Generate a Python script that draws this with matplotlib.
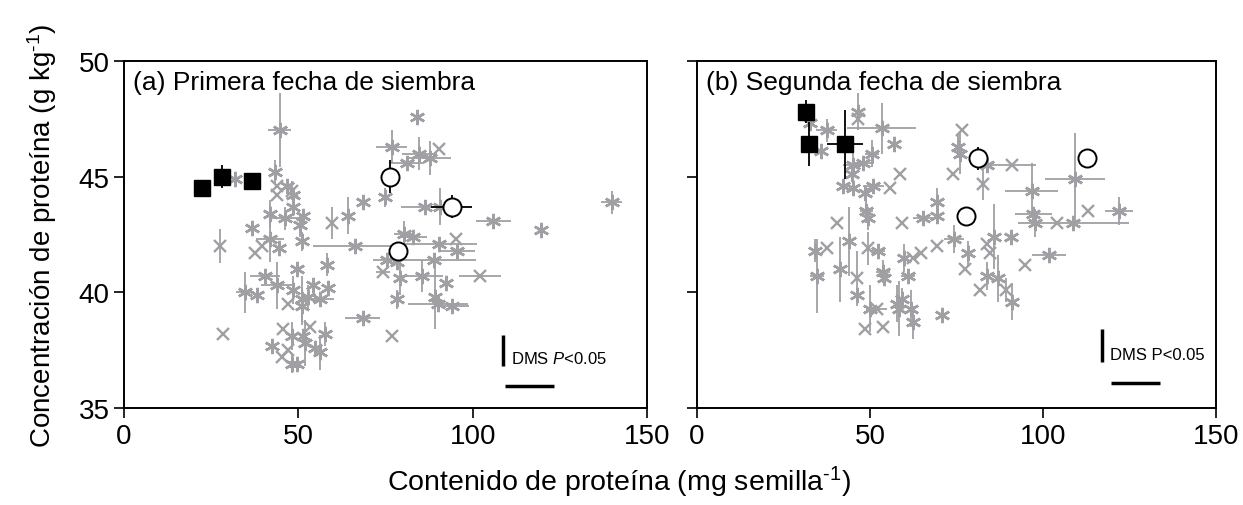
import numpy as np
import matplotlib.pyplot as plt

plt.rcParams['font.family'] = ['Liberation Sans', 'DejaVu Sans']
plt.rcParams['mathtext.fontset'] = 'custom'
plt.rcParams['mathtext.rm'] = 'Liberation Sans'
plt.rcParams['mathtext.it'] = 'Liberation Sans:italic'

# ---- panel (a) grey points: x, y, xerr, yerr, marker
a_x = [44.7, 43.3, 31.8, 43.8, 46.6, 48.1, 43.8, 48.6, 68.6, 74.8, 64.3, 59.6, 41.9, 46.2, 51.4, 50.5, 36.6, 48.6,
       83.9, 76.8, 84.7, 90.4, 87.8, 81.1, 86.3, 90.6, 105.9, 119.5, 139.9, 80.4, 83.0, 90.4, 95.2, 95.6, 75.3, 78.2,
       88.9, 85.4, 74.3, 79.1, 102.1, 92.3, 78.4, 89.2, 90.1, 94.0, 76.8, 27.5, 41.9, 39.5, 37.6, 44.5, 51.0, 66.2,
       58.1, 49.5, 40.4, 43.8, 34.7, 38.0, 48.6, 54.1, 58.6, 51.0, 52.9, 56.2, 47.1, 51.0, 68.4, 28.3, 45.7, 48.3,
       51.4, 53.3, 57.6, 42.4, 51.9, 54.8, 56.2, 47.1, 45.2, 48.1, 49.5]
a_y = [47.0, 45.2, 44.9, 44.6, 44.6, 44.4, 44.2, 44.2, 43.9, 44.1, 43.3, 43.0, 43.4, 43.2, 43.3, 42.9, 42.8, 43.7,
       47.6, 46.3, 46.0, 46.2, 45.8, 45.6, 43.7, 43.7, 43.1, 42.7, 43.9, 42.5, 42.4, 42.1, 42.3, 41.8, 41.4, 41.3,
       41.4, 40.7, 40.9, 40.6, 40.7, 40.4, 39.7, 39.8, 39.5, 39.4, 38.1, 42.0, 42.3, 42.0, 41.7, 41.9, 42.2, 42.0,
       41.2, 41.0, 40.7, 40.3, 40.0, 39.9, 40.1, 40.3, 40.2, 39.7, 39.8, 39.7, 39.5, 39.4, 38.9, 38.2, 38.4, 38.1,
       38.1, 38.5, 38.2, 37.7, 37.8, 37.6, 37.4, 37.5, 37.2, 36.9, 36.9]
a_xerr = [3.3, 0, 0, 0, 0, 0, 0, 0, 0, 0, 0, 0, 0, 4.5, 0, 0, 0, 0,
          0, 4.5, 5, 0, 6, 5, 7, 0, 5, 0, 3, 3, 4, 10.7, 0, 5, 4, 0,
          12, 6, 2, 0, 6, 0, 0, 0, 8.6, 5, 0, 0, 4, 0, 0, 0, 0, 12,
          0, 0, 4.3, 4.5, 2.5, 0, 0, 0, 0, 0, 0, 4, 0, 0, 5, 0, 0, 0,
          0, 0, 0, 0, 0, 0, 0, 0, 0, 0, 0]
a_yerr = [1.6, 0.5, 0, 0, 0, 0.4, 0, 0, 0, 0.4, 0.8, 0.7, 0.6, 0.5, 0, 0.5, 0, 0.4,
          0, 0.7, 0.7, 0, 0.75, 0, 0, 0.8, 0, 0, 0.5, 0.6, 0, 0, 0, 0, 0, 0,
          0, 0.7, 0, 0.7, 0, 0.3, 0.4, 1.4, 0, 0, 0, 0.75, 1.0, 0, 0, 0, 0.4, 0,
          0.5, 0, 0, 1.0, 0.9, 0, 0.6, 0, 0, 1.0, 0.5, 0, 0, 0.8, 0, 0, 0, 0.6,
          0, 0, 0.5, 0, 1.0, 0, 0.75, 0, 0, 0.4, 0]
a_mk = ['*', '*', '*', 'x', '*', 'x', 'x', '*', '*', '*', '*', 'x', '*', '*', '*', '*', '*', '*',
        '*', '*', '*', 'x', '*', '*', '*', '*', '*', '*', '*', '*', '*', '*', 'x', '*', '*', '*',
        '*', '*', 'x', '*', 'x', '*', '*', '*', '*', '*', 'x', 'x', '*', 'x', 'x', '*', '*', '*',
        '*', '*', '*', '*', '*', '*', '*', '*', '*', '*', '*', '*', 'x', '*', '*', 'x', 'x', '*',
        '*', 'x', '*', '*', '*', '*', '*', 'x', 'x', '*', '*']

# ---- panel (b) grey points
b_x = [32.7, 37.5, 53.4, 46.6, 46.6, 56.9, 36.0, 50.5, 48.1, 45.2, 44.7, 58.7, 42.3, 45.2, 48.6, 51.0, 55.8, 49.0,
       49.5, 40.4, 59.2, 65.4, 69.3, 69.3, 74.1, 75.5, 76.5, 76.0, 83.7, 91.0, 82.8, 96.7, 109.2, 97.2, 97.7, 104.2,
       108.8, 113.1, 122.0, 85.9, 90.8, 83.7, 78.4, 84.7, 101.8, 94.8, 77.5, 83.7, 87.1, 81.8, 89.2, 91.0, 34.1, 37.5,
       34.6, 41.3, 43.9, 46.2, 46.2, 49.3, 52.4, 53.8, 54.0, 50.0, 51.9, 57.7, 59.2, 58.4, 62.0, 62.5, 48.6, 53.8,
       59.9, 62.5, 64.9, 61.1, 69.3, 74.3, 70.7]
b_y = [47.3, 47.0, 47.1, 47.8, 47.5, 46.4, 46.1, 46.0, 45.6, 45.5, 45.1, 45.1, 44.6, 44.5, 44.3, 44.6, 44.5, 43.5,
       43.2, 43.0, 43.0, 43.2, 43.9, 43.3, 45.1, 46.3, 47.0, 46.0, 45.5, 45.5, 44.7, 44.4, 44.9, 43.4, 43.0, 43.0,
       43.0, 43.5, 43.5, 42.4, 42.4, 42.1, 41.7, 41.7, 41.6, 41.2, 41.0, 40.7, 40.6, 40.1, 40.1, 39.6, 41.8, 41.9,
       40.7, 41.0, 42.2, 40.6, 39.9, 41.9, 41.8, 40.9, 40.6, 39.3, 39.3, 39.5, 39.7, 39.3, 39.3, 38.7, 38.4, 38.5,
       41.5, 41.5, 41.7, 40.7, 42.0, 42.3, 39.0]
b_xerr = [0, 3, 10, 0, 0, 0, 0, 2, 3, 3, 0, 0, 0, 0, 0, 3, 0, 2,
          0, 0, 0, 3, 0, 0, 0, 0, 0, 0, 0, 7, 0, 7.8, 8.7, 5.3, 0, 0,
          16, 0, 4, 0, 0, 0, 0, 0, 5, 0, 0, 0, 0, 0, 0, 0, 0, 0,
          2, 0, 0, 0, 0, 0, 2, 2, 0, 0, 3, 0, 0, 0, 0, 0, 0, 0,
          0, 0, 0, 2, 0, 3, 0]
b_yerr = [0, 0.5, 1.1, 0.8, 0, 0, 0, 0.6, 0, 1.2, 0, 0, 0, 0, 0, 0, 0, 0.5,
          0.5, 0, 0, 0, 0.6, 0, 0, 0.5, 0, 0.9, 0, 0, 0.7, 1.2, 2.0, 0, 0.6, 0,
          0, 0, 0.6, 1.4, 0, 0, 0.5, 0, 0, 0, 0, 0.6, 1.0, 0, 0.5, 0.8, 0.5, 0,
          1.6, 1.4, 1.5, 1.2, 0, 0.7, 0, 0.5, 0, 1.0, 0, 0.8, 0.5, 1.2, 0.8, 0.7, 0, 0,
          0.6, 0, 0, 0, 0, 0.6, 0]
b_mk = ['*', '*', '*', '*', 'x', '*', '*', '*', '*', '*', '*', 'x', '*', '*', '*', '*', 'x', '*',
        '*', 'x', 'x', '*', '*', '*', 'x', '*', 'x', '*', '*', 'x', 'x', '*', '*', '*', '*', 'x',
        '*', 'x', '*', '*', '*', 'x', '*', 'x', '*', 'x', 'x', '*', '*', 'x', 'x', '*', '*', 'x',
        '*', '*', '*', 'x', '*', 'x', '*', '*', '*', '*', 'x', '*', '*', '*', '*', '*', 'x', 'x',
        '*', 'x', 'x', '*', 'x', '*', '*']

# ---- black squares and open circles
a_sq_x = [22.3, 28.0, 36.8]
a_sq_y = [44.5, 45.0, 44.8]
a_sq_xerr = [0, 0, 0]
a_sq_yerr = [0.1, 0.5, 0.3]
a_ci_x = [76.3, 94.0, 78.7]
a_ci_y = [45.0, 43.7, 41.8]
a_ci_xerr = [2.5, 5.9, 0]
a_ci_yerr = [0.7, 0.5, 0]

b_sq_x = [31.5, 32.5, 42.8]
b_sq_y = [47.8, 46.4, 46.4]
b_sq_xerr = [0, 0, 5.3]
b_sq_yerr = [0.5, 0.95, 1.5]
b_ci_x = [81.3, 112.6, 77.7]
b_ci_y = [45.8, 45.8, 43.3]
b_ci_xerr = [0, 0, 0]
b_ci_yerr = [0.5, 0, 0]

# DMS bars: (x, y0, y1) vertical, (x0, x1, y) horizontal
a_dms_v = (108.8, 36.8, 38.15)
a_dms_h = (109.4, 123.3, 35.95)
b_dms_v = (117.0, 36.98, 38.4)
b_dms_h = (119.8, 133.8, 36.1)

grey = '#a0a0a4'
ast = (6, 2, 0)

fig = plt.figure(figsize=(12.43, 5.06), dpi=100)
ax_a = fig.add_axes([0.0998, 0.1917, 0.4207, 0.6858])
ax_b = fig.add_axes([0.5607, 0.1917, 0.4175, 0.6858])


def draw(ax, xs, ys, xe, ye, mk, sqx, sqy, sqxe, sqye, cix, ciy, cixe, ciye):
    for x, y, dx, dy, m in zip(xs, ys, xe, ye, mk):
        if dx > 0 or dy > 0:
            ax.errorbar(x, y, xerr=dx if dx > 0 else None, yerr=dy if dy > 0 else None,
                        fmt='none', ecolor=grey, elinewidth=1.3, capsize=0, zorder=1)
        if m == '*':
            ax.plot(x, y, marker=ast, ms=11, mew=1.8, color=grey, ls='none', zorder=2)
        else:
            ax.plot(x, y, marker='x', ms=8, mew=1.7, color=grey, ls='none', zorder=2)
    ax.errorbar(sqx, sqy, xerr=sqxe, yerr=sqye, fmt='s', ms=12, mfc='black', mec='black',
                ecolor='black', elinewidth=1.3, capsize=0, zorder=4)
    ax.errorbar(cix, ciy, xerr=cixe, yerr=ciye, fmt='o', ms=13, mfc='white', mec='black', mew=1.4,
                ecolor='black', elinewidth=1.3, capsize=0, zorder=4)
    ax.set_xlim(0, 150)
    ax.set_ylim(35, 50)
    ax.set_xticks([0, 50, 100, 150])
    ax.set_yticks([35, 40, 45, 50])
    ax.tick_params(direction='out', length=7, width=1.2, labelsize=20, top=False, right=False)
    for s in ax.spines.values():
        s.set_linewidth(1.4)


draw(ax_a, a_x, a_y, a_xerr, a_yerr, a_mk, a_sq_x, a_sq_y, a_sq_xerr, a_sq_yerr,
     a_ci_x, a_ci_y, a_ci_xerr, a_ci_yerr)
draw(ax_b, b_x, b_y, b_xerr, b_yerr, b_mk, b_sq_x, b_sq_y, b_sq_xerr, b_sq_yerr,
     b_ci_x, b_ci_y, b_ci_xerr, b_ci_yerr)
ax_b.set_yticklabels([])

ax_a.text(0.017, 0.975, '(a) Primera fecha de siembra', transform=ax_a.transAxes, va='top', ha='left', fontsize=19)
ax_b.text(0.017, 0.975, '(b) Segunda fecha de siembra', transform=ax_b.transAxes, va='top', ha='left', fontsize=19)

for ax, v, h, lab in [(ax_a, a_dms_v, a_dms_h, 'DMS $\\it{P}$<0.05'), (ax_b, b_dms_v, b_dms_h, 'DMS P<0.05')]:
    ax.plot([v[0], v[0]], [v[1], v[2]], color='black', lw=2.5, solid_capstyle='butt')
    ax.plot([h[0], h[1]], [h[2], h[2]], color='black', lw=2.5, solid_capstyle='butt')
    ax.text(v[0] + 2.3, v[1] + 0.02, lab, fontsize=12, va='bottom', ha='left')

ax_a.set_ylabel('Concentración de proteína (g kg$^{\\text{-}1}$)', fontsize=20, labelpad=14)
fig.text(0.498, 0.012, 'Contenido de proteína (mg semilla$^{\\text{-}1}$)', fontsize=20.5, ha='center', va='bottom')

fig.savefig('out.png', dpi=100)
